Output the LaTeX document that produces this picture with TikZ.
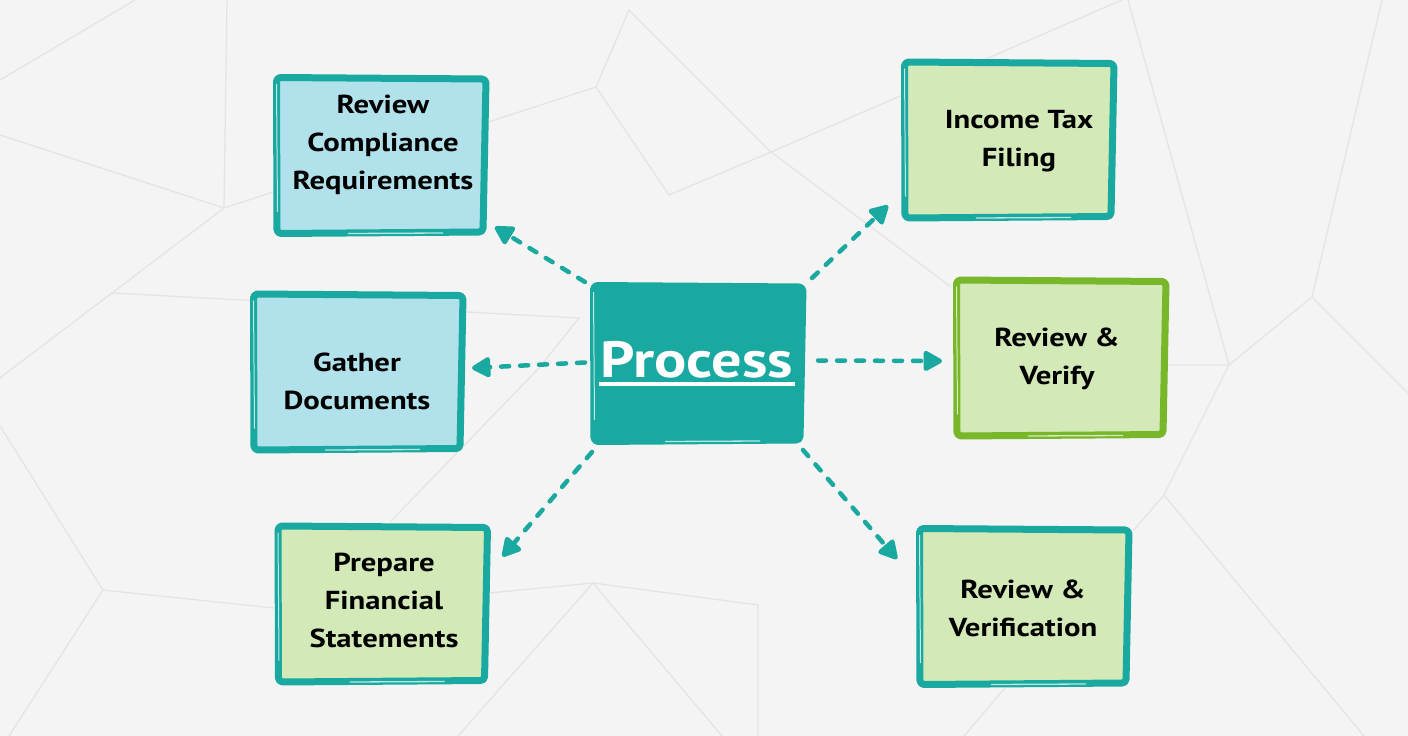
\documentclass[tikz,border=0pt]{standalone}
\usepackage{fontspec}
\setmainfont[FakeStretch=1.18]{PT Sans}
\usetikzlibrary{arrows.meta}
\definecolor{bgc}{HTML}{F4F4F4}
\definecolor{meshc}{HTML}{E4E4E4}
\definecolor{tealc}{HTML}{19A9A0}
\definecolor{lblue}{HTML}{B1E2EB}
\definecolor{lgreen}{HTML}{D3E9B8}
\definecolor{gborder}{HTML}{78B62A}
\tikzset{
  boxn/.style={draw=none, outer sep=0pt, inner sep=0pt, minimum width=215pt, minimum height=163pt},
  lbl/.style={align=center, font=\fontsize{26}{38}\selectfont\bfseries, text=black, inner sep=0pt},
  meshline/.style={meshc, line width=1.3pt, line join=round},
  arr/.style={tealc, line width=4.5pt, dash pattern=on 8pt off 11pt, line cap=round,
    -{Triangle[length=21pt,width=22pt,round]}, shorten >=0pt},
}
\newcommand\skbox[3]{%
  \path[fill=#2] ([shift={(3,3)}]#1.north west) -- ([shift={(-3,3)}]#1.north east)
     -- ([shift={(-4,-3)}]#1.south east) -- ([shift={(3,-3)}]#1.south west) -- cycle;
  \draw[#3, line width=7pt, rounded corners=4pt, line join=round]
     ([shift={(3.5,3.5)}]#1.north west) -- ([shift={(-2,5)}]#1.north east)
     -- ([shift={(-5,-5)}]#1.south east) -- ([shift={(4,-3.5)}]#1.south west) -- cycle;
  \draw[white, line width=1pt, opacity=.75] ([shift={(3.5,10)}]#1.north west) -- ([shift={(4.5,-25)}]#1.south west);
  \draw[white, line width=1.3pt, opacity=.7] ([shift={(75,-3.5)}]#1.south west) -- ([shift={(-45,-4)}]#1.south east);
}
\begin{document}
\begin{tikzpicture}[x=1pt,y=-1pt]
\fill[bgc] (0,0) rectangle (1408,736);
\useasboundingbox (0,0) rectangle (1408,736);
% background mesh
\draw[meshline] (0,80) -- (135,0);
\draw[meshline] (227,0) -- (224,208);
\draw[meshline] (0,135) -- (224,208) -- (596,87) -- (629,10) -- (771,152) -- (951,287);
\draw[meshline] (596,87) -- (669,195) -- (771,152) -- (1122,0);
\draw[meshline] (224,208) -- (112,293) -- (13,368) -- (0,378);
\draw[meshline] (112,293) -- (579,318) -- (539,368) -- (391,521);
\draw[meshline] (1128,0) -- (1229,365);
\draw[meshline] (1382,0) -- (1312,297) -- (1229,365);
\draw[meshline] (1312,297) -- (1408,393);
\draw[meshline] (1166,365) -- (1229,365) -- (1164,495) -- (1133,531);
\draw[meshline] (1164,495) -- (1364,736);
\draw[meshline] (0,426) -- (103,590) -- (274,608);
\draw[meshline] (103,590) -- (9,736);
\draw[meshline] (489,593) -- (593,583) -- (758,605) -- (758,736);
\draw[meshline] (593,583) -- (458,736);
\draw[meshline] (593,583) -- (722,736);
\draw[meshline] (1005,688) -- (964,736);

% boxes
\node[boxn] (rc)   at (380.5,155.5) {};
\node[boxn] (gd)   at (357.5,372)   {};
\node[boxn] (pf)   at (382,604)     {};
\node[boxn] (proc) at (697.5,363.5) {};
\node[boxn] (it)   at (1008.5,140)  {};
\node[boxn] (rv)   at (1060.5,358)  {};
\node[boxn] (rvf)  at (1023.5,606.5) {};
\skbox{rc}{lblue}{tealc}
\skbox{gd}{lblue}{tealc}
\skbox{pf}{lgreen}{tealc}
\skbox{proc}{tealc}{tealc}
\skbox{it}{lgreen}{tealc}
\skbox{rv}{lgreen}{gborder}
\skbox{rvf}{lgreen}{tealc}

\node[lbl] (trc)  at (383,145)  {Review\\Compliance\\Requirements};
\node[lbl] (tgd)  at (357,381)  {Gather\\Documents};
\node[lbl] (tpf)  at (384,600)  {Prepare\\Financial\\Statements};
\node[lbl] (tit)  at (1019,141) {Income Tax\\Filing};
\node[lbl] (trv)  at (1057,359) {Review \&\\Verify};
\node[lbl] (trvf) at (1023,608) {Review \&\\Verification};

\node[anchor=base, inner sep=0pt, text=white, font=\fontsize{51}{60}\selectfont\bfseries] (ptxt) at (697,377) {Process};
\draw[white, line width=3.5pt] ([shift={(-2,7)}]ptxt.base west) -- ([shift={(2,7)}]ptxt.base east);

% connectors
\draw[arr] ([shift={(-5,0)}]proc.north west) -- ([shift={(7,-10)}]rc.south east);
\draw[arr] ([shift={(-5,-1)}]proc.west) -- ([shift={(7,-4)}]gd.east);
\draw[arr] ([shift={(2,7)}]proc.south west) -- ([shift={(13,34)}]pf.north east);
\draw[arr] ([shift={(7,-4)}]proc.north east) -- ([shift={(-13,-16)}]it.south west);
\draw[arr] ([shift={(13,-3)}]proc.east) -- ([shift={(-11,3)}]rv.west);
\draw[arr] ([shift={(-2,5)}]proc.south east) -- ([shift={(-19,34)}]rvf.north west);
\end{tikzpicture}
\end{document}
